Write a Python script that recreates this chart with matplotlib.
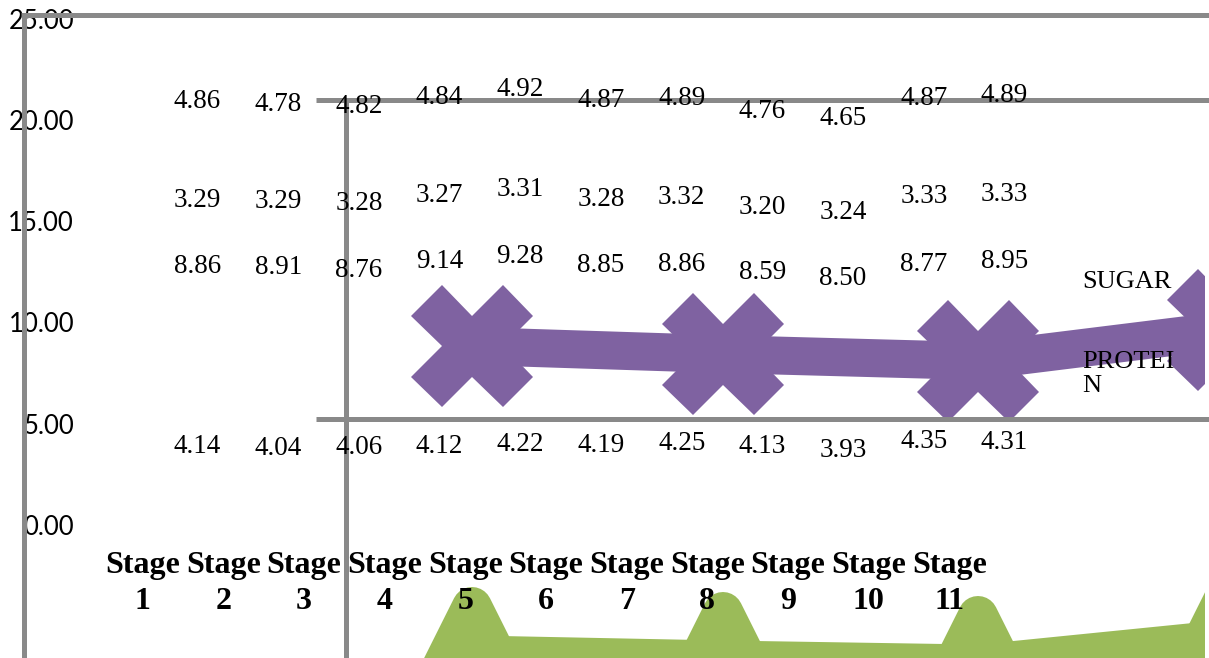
import numpy as np
import matplotlib
matplotlib.use("Agg")
import matplotlib.pyplot as plt
from matplotlib.lines import Line2D
from matplotlib.markers import MarkerStyle

# ---------------- data ----------------
stages = [f"Stage\n{i}" for i in range(1, 12)]
stage_pos = list(range(1, 12))
row1 = [4.14, 4.04, 4.06, 4.12, 4.22, 4.19, 4.25, 4.13, 3.93, 4.35, 4.31]
row2 = [8.86, 8.91, 8.76, 9.14, 9.28, 8.85, 8.86, 8.59, 8.50, 8.77, 8.95]
row3 = [3.29, 3.29, 3.28, 3.27, 3.31, 3.28, 3.32, 3.20, 3.24, 3.33, 3.33]
row4 = [4.86, 4.78, 4.82, 4.84, 4.92, 4.87, 4.89, 4.76, 4.65, 4.87, 4.89]
y_ticks = [0, 5, 10, 15, 20, 25]

purple_x = [5.08, 8.19, 11.35, 14.45]
purple_y = [8.84, 8.44, 8.10, 9.63]
green_x = [5.08, 8.19, 11.35, 14.45]
green_y = [-6.91, -7.16, -7.36, -6.12]

legend_labels = ["SUGAR", "PROTEI\nN"]

# ---------------- layout ----------------
W, H = 1209, 658
AX_W = 1204
X0, DX = 142.5, 80.7     # pixel of category 1, pixels per category
Y0, DY = 525.0, 20.25    # pixel of value 0, pixels per unit
PT = 72 / 100            # points per pixel

GRAY = "#898989"
PURPLE = "#7F62A1"
GREEN = "#9BBB59"

fig = plt.figure(figsize=(W / 100, H / 100), dpi=100)
ax = fig.add_axes([0, 0, AX_W / W, 1])
ax.set_xlim(1 - X0 / DX, 1 + (AX_W - X0) / DX)
ax.set_ylim((Y0 - H) / DY, Y0 / DY)
ax.patch.set_visible(False)
for s in ax.spines.values():
    s.set_visible(False)

# y tick labels (inside, right-aligned at ~74px)
ax.set_yticks(y_ticks)
ax.set_yticklabels([f"{v:.2f}" for v in y_ticks], fontfamily="Lato", fontsize=18.5)
ax.tick_params(axis="y", length=0, pad=-74 * PT)

# x tick labels
ax.set_xticks(stage_pos)
ax.set_xticklabels(stages, fontfamily="Liberation Serif", fontweight="bold",
                   fontsize=23, linespacing=1.33)
ax.tick_params(axis="x", length=0, pad=-(H - 551) * PT)

# gray frame lines (pixel coordinates -> axes fraction)
def fx(px):
    return px / AX_W

def fy(py):
    return 1 - py / H

segs = [((21, 14.5), (1209, 14.5)),
        ((23.5, 14.5), (23.5, 658)),
        ((316, 100), (1209, 100)),
        ((345.5, 100), (345.5, 658)),
        ((316, 418.5), (1209, 418.5))]
for (xa, ya), (xb, yb) in segs:
    ax.add_line(Line2D([fx(xa), fx(xb)], [fy(ya), fy(yb)], transform=ax.transAxes,
                       color=GRAY, lw=5 * PT, solid_capstyle="butt", clip_on=False,
                       zorder=3))

# green series: very thick band (drawn as a filled band) with rounded triangle markers
half_band = 30 / DY
gy = np.array(green_y)
ax.fill_between(green_x, gy - half_band, gy + half_band, color=GREEN, lw=0, zorder=1)
ax.plot(green_x, green_y, linestyle="none",
        marker=MarkerStyle("^", joinstyle="round"), markersize=116 * PT,
        markerfacecolor=GREEN, markeredgecolor=GREEN, markeredgewidth=40 * PT,
        zorder=1)

# purple series (thick line with X markers)
ax.plot(purple_x, purple_y, color=PURPLE, lw=38 * PT, marker="X",
        markersize=122 * PT, markerfacecolor=PURPLE, markeredgewidth=0,
        solid_joinstyle="miter", zorder=2)

# data labels at stacked positions
cum = np.cumsum(np.array([row1, row2, row3, row4]), axis=0)
for rvals, cvals in zip([row1, row2, row3, row4], cum):
    for x, v, c in zip(stage_pos, rvals, cvals):
        ax.annotate(f"{v:.2f}", xy=(x, c), xytext=(55, -11.5),
                    textcoords="offset pixels", ha="center", va="baseline",
                    fontfamily="Liberation Serif", fontsize=19.5, zorder=5,
                    annotation_clip=False)

# legend-like labels
fig.text(1082 / W, 1 - 288 / H, legend_labels[0], ha="left", va="baseline",
         fontfamily="Liberation Serif", fontsize=19)
fig.text(1082 / W, 1 - 392 / H, legend_labels[1], ha="left", va="baseline",
         fontfamily="Liberation Serif", fontsize=19, linespacing=1.1)

fig.savefig("out.png", dpi=100)
